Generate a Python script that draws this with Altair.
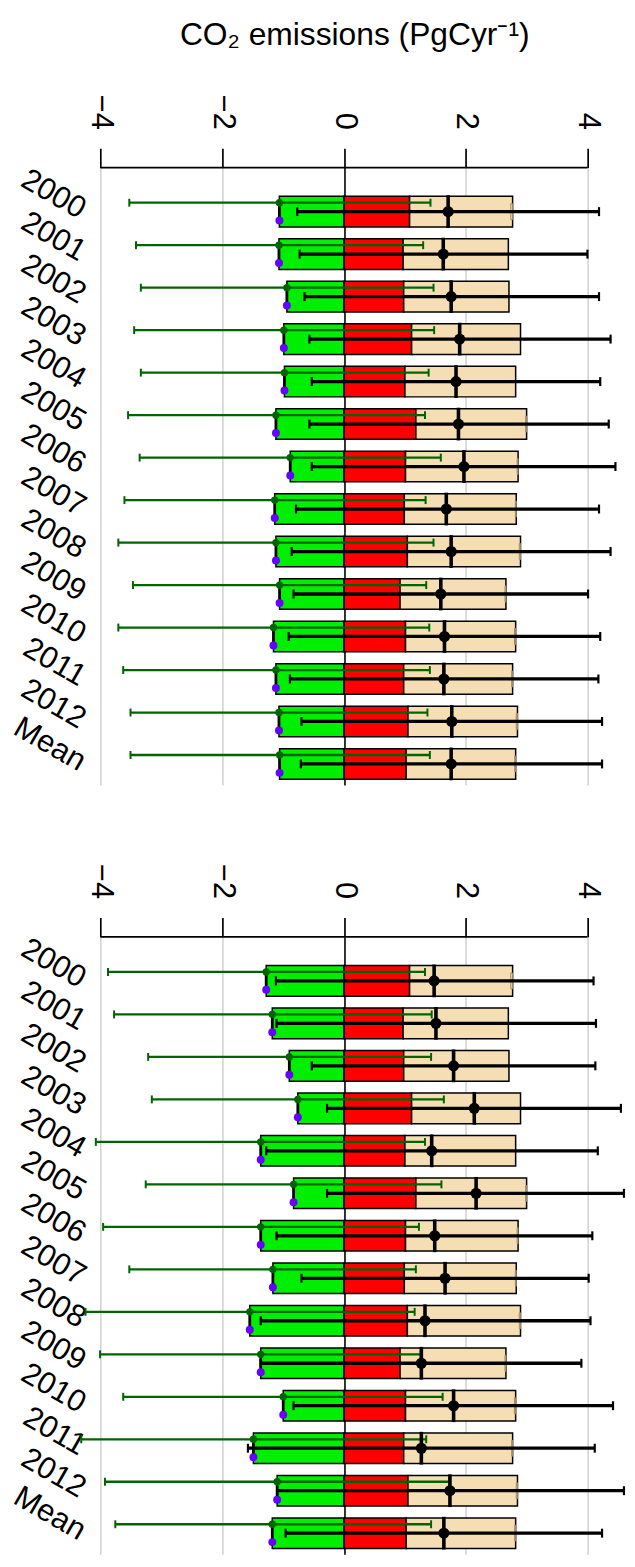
import altair as alt
import pandas as pd

rows = ["2000", "2001", "2002", "2003", "2004", "2005", "2006", "2007",
        "2008", "2009", "2010", "2011", "2012", "Mean"]

# shared stacked bars (both panels)
red_val = [1.077, 0.97, 0.98, 1.11, 1.00, 1.18, 1.01, 0.99, 1.04, 0.92, 1.01, 0.98, 1.05, 1.02]
tan_val = [2.77, 2.70, 2.71, 2.90, 2.82, 3.00, 2.86, 2.83, 2.90, 2.66, 2.82, 2.77, 2.85, 2.82]
tan_inner = [2.74, 2.70, 2.71, 2.90, 2.82, 2.985, 2.845, 2.815, 2.88, 2.645, 2.80, 2.755, 2.83, 2.805]

# top panel
green_a = [-1.063, -1.07, -0.94, -0.99, -0.98, -1.12, -0.885, -1.14, -1.12, -1.06, -1.16, -1.12, -1.07, -1.06]
green_lo_a = [-3.53, -3.42, -3.34, -3.45, -3.34, -3.55, -3.36, -3.61, -3.71, -3.47, -3.71, -3.63, -3.51, -3.51]
green_hi_a = [1.42, 1.30, 1.47, 1.48, 1.39, 1.33, 1.59, 1.34, 1.47, 1.35, 1.40, 1.41, 1.37, 1.41]
black_a = [1.71, 1.63, 1.76, 1.90, 1.84, 1.88, 1.97, 1.68, 1.76, 1.59, 1.65, 1.64, 1.77, 1.76]
black_lo_a = [-0.77, -0.73, -0.65, -0.57, -0.53, -0.57, -0.53, -0.79, -0.86, -0.83, -0.91, -0.89, -0.70, -0.71]
black_hi_a = [4.19, 4.00, 4.19, 4.38, 4.21, 4.35, 4.46, 4.19, 4.38, 4.01, 4.21, 4.18, 4.24, 4.24]

# bottom panel
green_b = [-1.28, -1.18, -0.90, -0.76, -1.37, -0.83, -1.37, -1.17, -1.55, -1.37, -1.00, -1.49, -1.10, -1.18]
green_lo_b = [-3.88, -3.78, -3.22, -3.16, -4.08, -3.26, -3.96, -3.53, -4.25, -4.01, -3.63, -4.32, -3.93, -3.76]
green_hi_b = [1.33, 1.44, 1.43, 1.64, 1.33, 1.60, 1.23, 1.18, 1.16, 1.26, 1.62, 1.35, 1.73, 1.43]
black_b = [1.48, 1.51, 1.80, 2.14, 1.44, 2.17, 1.49, 1.66, 1.33, 1.27, 1.80, 1.27, 1.74, 1.64]
black_lo_b = [-1.12, -1.11, -0.53, -0.28, -1.28, -0.28, -1.11, -0.70, -1.37, -1.37, -0.83, -1.58, -1.10, -0.96]
black_hi_b = [4.10, 4.14, 4.13, 4.55, 4.17, 4.60, 4.08, 4.02, 4.05, 3.90, 4.42, 4.12, 4.60, 4.24]

tick_values = [-4, -2, 0, 2, 4]
XMIN, XMAX = -4.30, 4.65
UNIT = 61.3
W = (XMAX - XMIN) * UNIT
H = 622
FONT = "Liberation Sans"
DG = "#006400"


def panel(g, glo, ghi, bm, blo, bhi, title=None):
    df = pd.DataFrame({
        "row": rows, "green": g, "glo": glo, "ghi": ghi,
        "red": red_val, "tan": tan_val, "tan_in": tan_inner,
        "bm": bm, "blo": blo, "bhi": bhi,
    })
    xs = alt.Scale(domain=[XMIN, XMAX], nice=False, zero=False)
    xaxis = alt.Axis(
        orient="top", values=tick_values, domain=False, ticks=True,
        tickSize=19.5, tickWidth=1.7, tickColor="black",
        labelAngle=90, labelAlign="right", labelBaseline="middle",
        labelFontSize=31, labelPadding=19, labelColor="black", labelFont=FONT,
        labelFlush=False, labelOverlap=False, grid=True,
        gridColor={"condition": {"test": "datum.value === 0", "value": "black"}, "value": "#d3d3d3"},
        gridWidth=1.6,
    )
    yaxis = alt.Axis(
        domain=False, ticks=False, grid=False, labelAngle=30, labelAlign="right",
        labelBaseline="middle", labelFontSize=31, labelPadding=0,
        labelColor="black", labelFont=FONT,
    )
    Y = alt.Y("row:N", sort=rows, title=None,
              scale=alt.Scale(paddingInner=0.28, paddingOuter=0.406, align=0.833),
              axis=yaxis)

    def X(f):
        return alt.X(f + ":Q", scale=xs, axis=xaxis, title=None)

    base = alt.Chart(df)
    green_bar = base.mark_bar(fill="#00EE00", stroke="black", strokeWidth=1.5, opacity=1).encode(
        x=X("green"), x2=alt.datum(0), y=Y)
    red_bar = base.mark_bar(fill="#FF0000", stroke="black", strokeWidth=1.5, opacity=1).encode(
        x=X("red"), x2=alt.datum(0), y=Y)
    tan_bar = base.mark_bar(fill="#F5DEB3", stroke="black", strokeWidth=1.5, opacity=1).encode(
        x=X("red"), x2="tan:Q", y=Y)
    inner = base.transform_filter("datum.tan_in < datum.tan").mark_bar(
        fill="#F5DEB3", stroke="#9c8a66", strokeWidth=1, height=16, opacity=1).encode(
        x=X("tan_in"), x2="tan:Q", y=Y)
    g_rule = base.mark_rule(color=DG, strokeWidth=2.3, yOffset=-9, opacity=1).encode(
        x=X("glo"), x2="ghi:Q", y=Y)
    g_cap1 = base.mark_tick(color=DG, size=8, thickness=2, yOffset=-9, opacity=1).encode(x=X("glo"), y=Y)
    g_cap2 = base.mark_tick(color=DG, size=8, thickness=2, yOffset=-9, opacity=1).encode(x=X("ghi"), y=Y)
    conn = base.mark_tick(color="black", size=18, thickness=2.8, opacity=1).encode(x=X("green"), y=Y)
    g_dot = base.mark_circle(color=DG, size=55, opacity=1, yOffset=-9).encode(x=X("green"), y=Y)
    p_dot = base.mark_circle(color="#6600FF", size=64, opacity=1, yOffset=9).encode(x=X("green"), y=Y)
    b_rule = base.mark_rule(color="black", strokeWidth=3.3, opacity=1).encode(x=X("blo"), x2="bhi:Q", y=Y)
    b_cap1 = base.mark_tick(color="black", size=9, thickness=2.2, opacity=1).encode(x=X("blo"), y=Y)
    b_cap2 = base.mark_tick(color="black", size=9, thickness=2.2, opacity=1).encode(x=X("bhi"), y=Y)
    b_vert = base.mark_tick(color="black", size=33, thickness=3.6, opacity=1).encode(x=X("bm"), y=Y)
    b_dot = base.mark_circle(color="black", size=125, opacity=1).encode(x=X("bm"), y=Y)
    axis_line = alt.Chart(pd.DataFrame({"a": [0]})).mark_rule(color="black", strokeWidth=1.7).encode(
        x=alt.XDatum(tick_values[0], scale=xs, axis=xaxis, title=None),
        x2=alt.datum(tick_values[-1]),
        y=alt.value(0))

    layer = alt.layer(green_bar, red_bar, tan_bar, inner, g_rule, g_cap1, g_cap2,
                      conn, g_dot, p_dot, b_rule, b_cap1, b_cap2, b_vert, b_dot,
                      axis_line).properties(width=W, height=H)
    if title is not None:
        layer = layer.properties(title=title)
    return layer


title = alt.TitleParams(
    "CO₂ emissions (PgCyr⁻¹)", fontSize=32, font=FONT, fontWeight="normal",
    anchor="middle", frame="group", offset=43, color="black")

p1 = panel(green_a, green_lo_a, green_hi_a, black_a, black_lo_a, black_hi_a, title)
p2 = panel(green_b, green_lo_b, green_hi_b, black_b, black_lo_b, black_hi_b)

chart = alt.vconcat(p1, p2, spacing=79).properties(
    padding={"left": 0, "top": 5, "right": 0, "bottom": 0},
    background="white",
).configure_view(stroke=None)

chart.save("out.html", embed_options={"renderer": "svg", "actions": False})
